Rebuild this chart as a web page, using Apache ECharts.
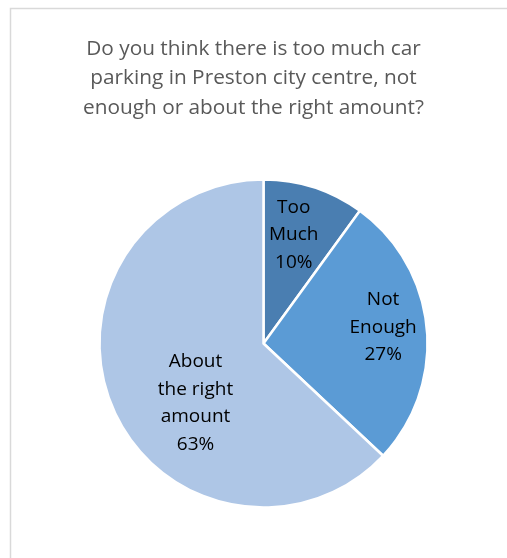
<!DOCTYPE html>
<html>
<head>
<meta charset="utf-8">
<script src="https://cdn.jsdelivr.net/npm/echarts@6/dist/echarts.min.js"></script>
<style>
  html, body { margin: 0; padding: 0; background: #fff; }
  #chart { width: 507px; height: 558px; }
</style>
</head>
<body>
<div id="chart"></div>
<script>
const titleText = "Do you think there is too much car\nparking in Preston city centre, not\nenough or about the right amount?";
const categories = ["Too\nMuch", "Not\nEnough", "About\nthe right\namount"];
const values = [10, 27, 63];
const colors = ["#4a7eb1", "#5b9bd5", "#aec6e6"];
const labelShift = [[4, -28], [35, -8], [10, 26]];

const chart = echarts.init(document.getElementById('chart'), null, { renderer: 'canvas' });
chart.setOption({
  animation: false,
  backgroundColor: '#ffffff',
  graphic: [{
    type: 'rect',
    shape: { x: 10.5, y: 8.5, width: 520, height: 600 },
    style: { fill: 'none', stroke: '#d9d9d9', lineWidth: 1.5 },
    silent: true,
    z: -1
  }],
  title: {
    text: titleText,
    left: 'center',
    top: 29,
    textStyle: {
      fontFamily: 'Open Sans',
      fontSize: 20.8,
      fontWeight: 'normal',
      color: '#595959',
      lineHeight: 29.5
    }
  },
  series: [{
    type: 'pie',
    center: [263.5, 343.5],
    radius: 164,
    startAngle: 90,
    clockwise: true,
    data: categories.map((c, i) => ({
      name: c,
      value: values[i],
      itemStyle: { color: colors[i] }
    })),
    itemStyle: { borderColor: '#ffffff', borderWidth: 2.5 },
    label: {
      show: true,
      position: 'inside',
      formatter: p => p.name + '\n' + p.value + '%',
      fontFamily: 'Open Sans',
      fontSize: 19,
      lineHeight: 27.5,
      color: '#000000',
      align: 'center'
    },
    labelLayout: p => ({ dx: labelShift[p.dataIndex][0], dy: labelShift[p.dataIndex][1] }),
    labelLine: { show: false },
    emphasis: { disabled: true }
  }]
});
</script>
</body>
</html>
